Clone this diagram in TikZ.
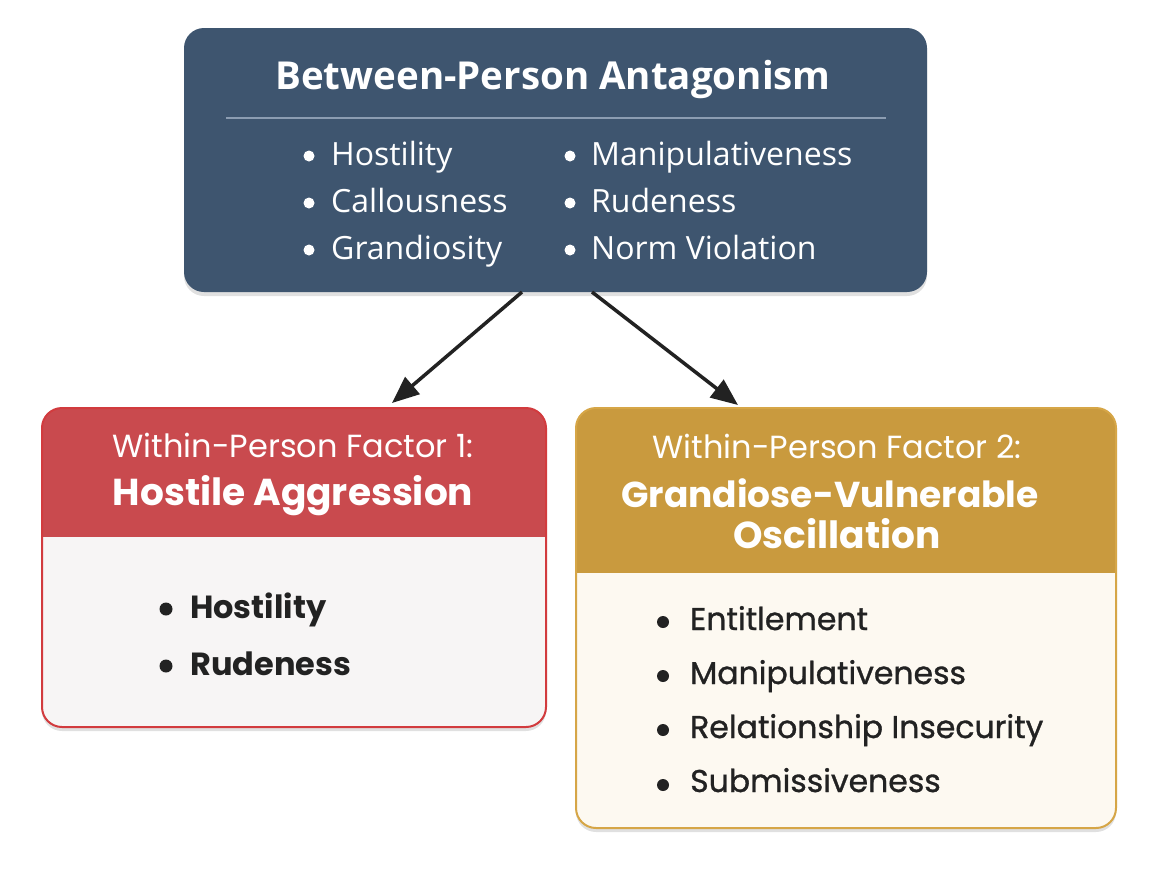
\documentclass[tikz,border=0pt]{standalone}
\usepackage{fontspec}
\setmainfont{Poppins}
\newfontfamily\topfont{Open Sans}
\newfontfamily\popmed[FakeBold=1]{Poppins}
\usetikzlibrary{arrows.meta,shadows}
\definecolor{topfill}{HTML}{3E556F}
\definecolor{sepcol}{HTML}{8C9DB2}
\definecolor{redhead}{HTML}{C94A4E}
\definecolor{redborder}{HTML}{D23B3E}
\definecolor{redbody}{HTML}{F7F5F5}
\definecolor{goldhead}{HTML}{C99A3E}
\definecolor{goldborder}{HTML}{D6A647}
\definecolor{goldbody}{HTML}{FDF9F1}
\definecolor{ink}{HTML}{222222}
\begin{document}
\begin{tikzpicture}[x=1pt,y=-1pt,
  panel/.style={rounded corners=20pt, inner sep=0pt, outer sep=0pt,
    drop shadow={shadow xshift=0pt, shadow yshift=-4pt, opacity=0.12, fill=black}},
  topitem/.style={anchor=base west, white, inner sep=0pt, font=\topfont\fontsize{32}{34}\selectfont},
  headsmall/.style={anchor=base, white, inner sep=0pt, font=\fontsize{32}{34}\selectfont},
  headbig/.style={anchor=base, white, inner sep=0pt, font=\bfseries\fontsize{37.5}{40}\selectfont},
  leftitem/.style={anchor=base west, ink, inner sep=0pt, font=\bfseries\fontsize{32}{35}\selectfont},
  rightitem/.style={anchor=base west, ink, inner sep=0pt, font=\popmed\fontsize{31.5}{34}\selectfont},
  conn/.style={draw=ink, line width=3.5pt, -{Triangle[length=27pt,width=22pt]}}
]
\useasboundingbox (0,0) rectangle (1151,868);
\fill[white] (0,0) rectangle (1151,868);

% top panel
\node[panel, fill=topfill, minimum width=743pt, minimum height=264pt] (top) at (555.5,160) {};
\node[anchor=base, white, inner sep=0pt, font=\topfont\bfseries\fontsize{38.5}{40}\selectfont] (ttl) at (553,89) {Between-Person Antagonism};
\draw[sepcol, line width=1.5pt] (226,118) -- (886,118);
\foreach \y in {156,203,250} {
  \fill[white] (309,\y) circle (5.5pt);
  \fill[white] (570,\y) circle (5.5pt);
}
\node[topitem] (t1) at (331,165) {Hostility};
\node[topitem] (t2) at (331,212) {Callousness};
\node[topitem] (t3) at (331,259) {Grandiosity};
\node[topitem] (t4) at (591,165) {Manipulativeness};
\node[topitem] (t5) at (591,212) {Rudeness};
\node[topitem] (t6) at (591,259) {Norm Violation};

% left panel
\node[panel, draw=redborder, line width=2pt, fill=redbody, minimum width=504pt, minimum height=319pt,
  path picture={\fill[redhead, sharp corners] ([xshift=-3pt,yshift=3pt]path picture bounding box.north west) rectangle ([xshift=3pt,yshift=-129pt]path picture bounding box.north east);}]
  (left) at (294,567.5) {};
\node[headsmall] (l1) at (293,457) {Within-Person Factor 1:};
\node[headbig] (l2) at (293,505) {Hostile Aggression};
\fill[ink] (166,609) circle (6.5pt);
\fill[ink] (166,666) circle (6.5pt);
\node[leftitem] (li1) at (190,618) {Hostility};
\node[leftitem] (li2) at (190,675) {Rudeness};

% right panel
\node[panel, draw=goldborder, line width=2pt, fill=goldbody, minimum width=540pt, minimum height=420pt,
  path picture={\fill[goldhead, sharp corners] ([xshift=-3pt,yshift=3pt]path picture bounding box.north west) rectangle ([xshift=3pt,yshift=-165pt]path picture bounding box.north east);}]
  (right) at (846,618) {};
\node[headsmall] (r1) at (837,458) {Within-Person Factor 2:};
\node[headbig, font=\bfseries\fontsize{36}{40}\selectfont] (r2) at (830,507) {Grandiose-Vulnerable};
\node[headbig] (r3) at (837,548) {Oscillation};
\foreach \y in {622,676,730,785} {\fill[ink] (663,\y) circle (6pt);}
\node[rightitem] (ri1) at (690,630) {Entitlement};
\node[rightitem] (ri2) at (690,684) {Manipulativeness};
\node[rightitem] (ri3) at (690,738) {Relationship Insecurity};
\node[rightitem] (ri4) at (690,792) {Submissiveness};

% connectors
\coordinate (la) at (392,403);
\coordinate (ra) at (738,405);
\draw[conn] ([xshift=-33.5pt]top.south) -- (la);
\draw[conn] ([xshift=36.5pt]top.south) -- (ra);
\end{tikzpicture}
\end{document}
